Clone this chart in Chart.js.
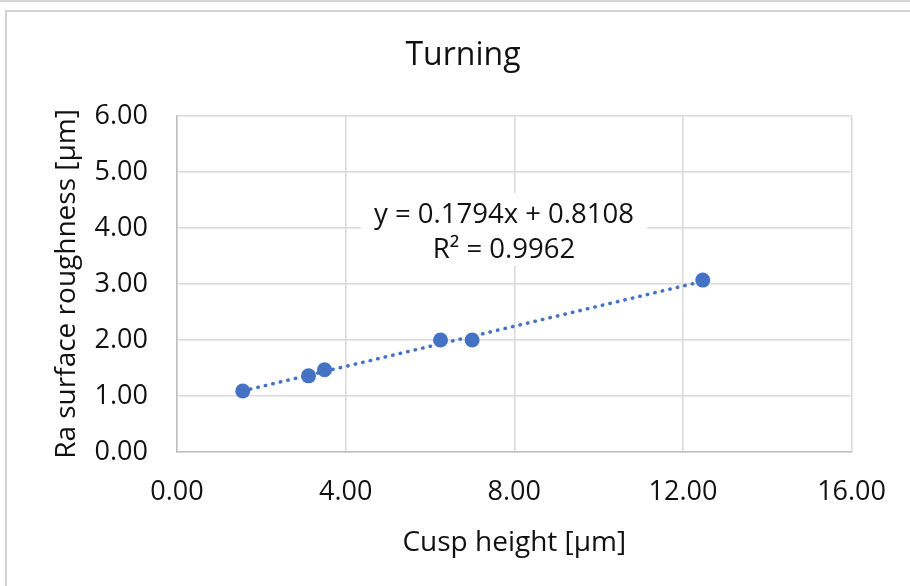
<!DOCTYPE html>
<html>
<head>
<meta charset="utf-8">
<script src="https://cdn.jsdelivr.net/npm/chart.js@4.4.1/dist/chart.umd.min.js"></script>
<style>
  html, body { margin: 0; padding: 0; background: #fff; overflow: hidden; }
  #topline { position: absolute; left: 0; top: 0; width: 910px; height: 2px; background: #d4d4d4; }
  #frame { position: absolute; left: 5px; top: 10px; width: 940px; height: 620px; border: 2px solid #d4d4d4; }
  #wrap { position: absolute; left: 0; top: 0; width: 910px; height: 586px; }
</style>
</head>
<body>
<div id="topline"></div>
<div id="frame"></div>
<div id="wrap"><canvas id="turnChart"></canvas></div>
<script>
// data
const cuspHeight = [1.56, 3.12, 3.50, 6.25, 7.00, 12.47];
const raRoughness = [1.09, 1.36, 1.47, 2.00, 2.00, 3.07];
const xTicks = [0, 4, 8, 12, 16];
const yTicks = [0, 1, 2, 3, 4, 5, 6];
const trendSlope = 0.1794;
const trendIntercept = 0.8108;
const trendR2 = 0.9962;
const chartTitle = 'Turning';

const blue = '#4472C4';
const font = "'Open Sans', 'Liberation Sans', sans-serif";

const points = cuspHeight.map((x, i) => ({ x: x, y: raRoughness[i] }));
const xMin = Math.min(...cuspHeight), xMax = Math.max(...cuspHeight);
const trendPoints = [xMin, xMax].map(x => ({ x: x, y: trendSlope * x + trendIntercept }));

// title centred on the whole chart box (excel style), not on the plot
const centredTitle = {
    id: 'centredTitle',
    afterDraw(chart) {
        const c = chart.ctx;
        c.save();
        c.fillStyle = '#111';
        c.font = '32px ' + font;
        c.textAlign = 'center';
        c.textBaseline = 'middle';
        c.fillText(chartTitle, 463, 56);
        c.restore();
    }
};

// white box with the trendline equation
const equationLabel = {
    id: 'equationLabel',
    afterDatasetsDraw(chart) {
        const c = chart.ctx;
        const area = chart.chartArea;
        const cx = area.left + 327;
        const top = area.top + 77;
        c.save();
        c.fillStyle = '#fff';
        c.fillRect(cx - 143, top, 286, 73);
        c.fillStyle = '#111';
        c.font = '27.5px ' + font;
        c.textAlign = 'center';
        c.textBaseline = 'middle';
        c.fillText('y = ' + trendSlope.toFixed(4) + 'x + ' + trendIntercept.toFixed(4), cx, top + 22);
        c.fillText('R\u00B2 = ' + trendR2.toFixed(4), cx, top + 57);
        c.restore();
    }
};

document.addEventListener('DOMContentLoaded', () => {
    const ctx = document.getElementById('turnChart').getContext('2d');

    new Chart(ctx, {
        type: 'scatter',
        data: {
            datasets: [{
                label: 'Turning',
                data: points,
                backgroundColor: blue,
                borderColor: blue,
                borderWidth: 0,
                pointRadius: 7.5
            }, {
                type: 'line',
                label: 'Linear trend',
                data: trendPoints,
                borderColor: blue,
                borderWidth: 3.5,
                borderDash: [0.5, 7.2],
                borderCapStyle: 'round',
                pointRadius: 0,
                fill: false
            }]
        },
        plugins: [equationLabel, centredTitle],
        options: {
            responsive: true,
            maintainAspectRatio: false,
            animation: false,
            layout: { padding: { left: 0, right: 57, top: 116, bottom: 0 } },
            plugins: {
                legend: { display: false },
                tooltip: { enabled: false },
                title: { display: false }
            },
            scales: {
                x: {
                    type: 'linear',
                    min: 0,
                    max: 16,
                    afterBuildTicks: s => { s.ticks = xTicks.map(v => ({ value: v })); },
                    afterFit: s => { s.height = 134; },
                    grid: { color: '#d9d9d9', lineWidth: 1.5, drawTicks: false },
                    border: { color: '#bfbfbf', width: 1.5 },
                    ticks: {
                        padding: 24,
                        color: '#111',
                        font: { family: font, size: 27 },
                        callback: v => v.toFixed(2)
                    },
                    title: {
                        display: true,
                        text: 'Cusp height [\u00B5m]',
                        color: '#111',
                        font: { family: font, size: 28 },
                        padding: { top: 0, bottom: 26 }
                    }
                },
                y: {
                    type: 'linear',
                    min: 0,
                    max: 6,
                    afterBuildTicks: s => { s.ticks = yTicks.map(v => ({ value: v })); },
                    afterFit: s => { s.width = 177; },
                    grid: { color: '#d9d9d9', lineWidth: 1.5, drawTicks: false },
                    border: { color: '#bfbfbf', width: 1.5 },
                    ticks: {
                        padding: 29,
                        color: '#111',
                        font: { family: font, size: 27 },
                        callback: v => v.toFixed(2)
                    },
                    title: {
                        display: true,
                        text: 'Ra surface roughness [\u00B5m]',
                        color: '#111',
                        font: { family: font, size: 28 },
                        padding: { top: 50, bottom: 0 }
                    }
                }
            }
        }
    });
});
</script>
</body>
</html>
